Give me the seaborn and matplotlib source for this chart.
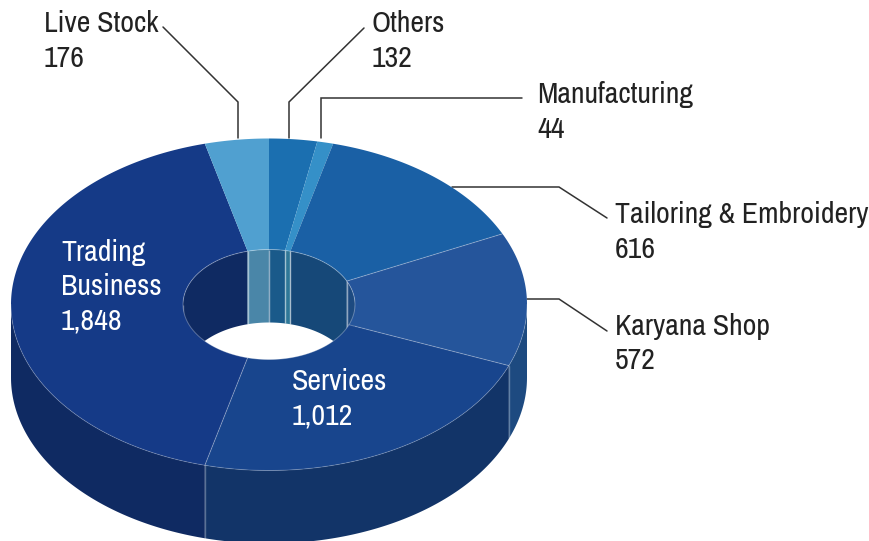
import numpy as np
import seaborn as sns
import matplotlib
matplotlib.use('Agg')
import matplotlib.pyplot as plt
from matplotlib import font_manager

# Data
categories = ['Others', 'Manufacturing', 'Tailoring & Embroidery', 'Karyana Shop', 'Services', 'Trading Business', 'Live Stock']
values = [132, 44, 616, 572, 1012, 1848, 176]

# Colours: top face, outer/inner wall
top_colors = ['#1b6fb0', '#3590c8', '#1a60a5', '#25559b', '#18458d', '#153a87', '#50a0d0']
wall_colors = ['#1a5a8a', '#2f7898', '#164878', '#1d4a80', '#123468', '#0f2a62', '#4a86a8']

sns.set_theme(style='white')

# narrow family if there is one
names = sorted({f.name for f in font_manager.fontManager.ttflist})
narrow = [n for n in names if 'Narrow' in n or 'Condensed' in n]
plt.rcParams['font.family'] = narrow[:1] + ['Roboto', 'DejaVu Sans']
font_size = 21.5 if narrow else 18

fig, ax = plt.subplots(figsize=(8.7, 5.41), dpi=100)
fig.subplots_adjust(0, 0, 1, 1)
ax.set_xlim(0, 870)
ax.set_ylim(541, 0)
ax.axis('off')

# Donut geometry in pixels
cx, cy = 269, 304.5
rx, ry = 258, 166
hx, hy = 86, 55
depth = 73
seam = (1, 1, 1, 0.3)


def arc(a0, a1, w, h, dy=0):
    # angles clockwise from the top, in degrees
    t = np.radians(np.linspace(a0, a1, max(int(abs(a1 - a0) * 2), 2)))
    return cx + w * np.sin(t), cy + dy - h * np.cos(t)


def wall(a0, a1, w, h, color, z):
    x1, y1 = arc(a0, a1, w, h)
    x2, y2 = arc(a1, a0, w, h, depth)
    ax.fill(np.r_[x1, x2], np.r_[y1, y2], color=color, lw=0, zorder=z)
    for a in (a0, a1):
        x, y = arc(a, a, w, h)
        ax.plot([x[0], x[0]], [y[0], y[0] + depth], color=seam, lw=1, zorder=z + 0.5, solid_capstyle='butt')


edges = np.r_[0, np.cumsum(values)] / np.sum(values) * 360

for i in range(len(values)):
    a0, a1 = edges[i], edges[i + 1]
    # outer wall, front half only
    lo, hi = max(a0, 90), min(a1, 270)
    if lo < hi:
        x1, y1 = arc(lo, hi, rx, ry)
        x2, y2 = arc(hi, lo, rx, ry, depth)
        ax.fill(np.r_[x1, x2], np.r_[y1, y2], color=wall_colors[i], lw=0, zorder=1)
        if a0 > 90:
            x, y = arc(a0, a0, rx, ry)
            ax.plot([x[0], x[0]], [y[0], y[0] + depth], color=seam, lw=1, zorder=1.5)
    # inner wall, far half only
    for lo, hi in [(max(a0, 270), min(a1, 360)), (max(a0, 0), min(a1, 90))]:
        if lo < hi:
            wall(lo, hi, hx, hy, wall_colors[i], 2)
    # top face
    xo, yo = arc(a0, a1, rx, ry)
    xi, yi = arc(a1, a0, hx, hy)
    ax.fill(np.r_[xo, xi], np.r_[yo, yi], color=top_colors[i], lw=0, zorder=4)
    # faint seam only between the darker slices
    if categories[i] in ('Karyana Shop', 'Services', 'Trading Business'):
        ax.plot([xi[-1], xo[0]], [yi[-1], yo[0]], color=seam, lw=0.7, zorder=5)

# Rim highlights
xr, yr = arc(0, 360, hx, hy)
ax.plot(xr, yr, color=seam, lw=0.7, zorder=5)
xr, yr = arc(90, 270, rx, ry)
ax.plot(xr, yr, color=(1, 1, 1, 0.2), lw=0.7, zorder=5)

# Leader lines
leaders = [
    ([163, 238, 238], [27, 102, 138]),
    ([364, 289, 289], [28, 102, 138]),
    ([321, 321, 522], [138, 98, 98]),
    ([452, 559, 607], [187, 187, 218]),
    ([527, 559, 607], [299, 299, 331]),
]
for lx, ly in leaders:
    ax.plot(lx, ly, color='#333333', lw=1.1, zorder=3, solid_joinstyle='miter')

# Labels
dark = '#222222'
labels = [
    ('Live Stock', 176, 44, 24, dark),
    ('Others', 132, 372, 24, dark),
    ('Manufacturing', 44, 537, 95, dark),
    ('Tailoring & Embroidery', 616, 615, 215, dark),
    ('Karyana Shop', 572, 615, 326, dark),
    ('Services', 1012, 292, 381, 'white'),
    ('Trading\nBusiness', 1848, 61, 252, 'white'),
]
for name, val, x, y, col in labels:
    lines = name.split('\n') + [f'{val:,}']
    for k, line in enumerate(lines):
        ax.text(x, y + k * 34.5, line, color=col, fontsize=font_size, va='center', ha='left', zorder=6)

fig.savefig('out.png', dpi=100)
